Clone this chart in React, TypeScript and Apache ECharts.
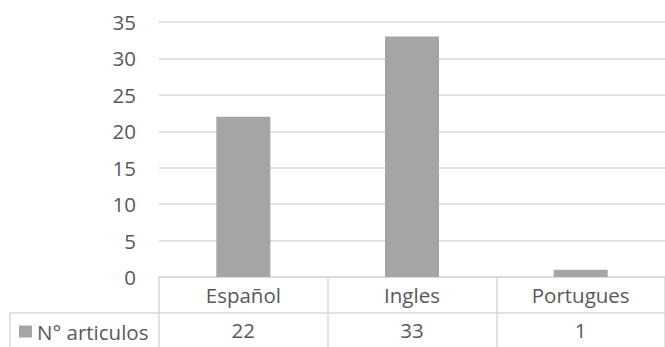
import React, { useEffect, useRef } from "react";
import * as echarts from "echarts";

const categories = ["Español", "Ingles", "Portugues"];
const seriesName = "N° articulos";
const values = [22, 33, 1];
const yTicks = { min: 0, max: 35, interval: 5 };

const FONT = "'Open Sans', 'Liberation Sans', sans-serif";
const TEXT = "#595959";
const LINE = "#d9d9d9";
const BAR = "#a5a5a5";

export default function App() {
  const ref = useRef<HTMLDivElement>(null);
  useEffect(() => {
    if (!ref.current) return;
    const chart = echarts.init(ref.current, undefined, { renderer: "svg" });
    chart.setOption({
      animation: false,
      backgroundColor: "#ffffff",
      textStyle: { fontFamily: FONT },
      grid: { left: 159, right: -13, top: 22, bottom: 70, containLabel: false },
      legend: {
        show: true,
        left: 19,
        top: 321,
        itemWidth: 13,
        itemHeight: 12,
        itemGap: 0,
        padding: 0,
        icon: "rect",
        textStyle: { color: TEXT, fontSize: 20.5, lineHeight: 20, fontFamily: FONT, padding: [0, 0, 0, 0] },
        data: [seriesName],
      },
      xAxis: [
        {
          type: "category",
          data: categories,
          position: "bottom",
          axisLine: { show: true, lineStyle: { color: LINE, width: 1.5 } },
          axisTick: { show: true, alignWithLabel: false, interval: 0, length: 72, lineStyle: { color: LINE, width: 1.5 } },
          axisLabel: { color: TEXT, fontSize: 20.5, fontFamily: FONT, margin: 18, verticalAlign: "middle", interval: 0 },
          splitLine: { show: false },
        },
        {
          type: "category",
          data: categories,
          position: "bottom",
          offset: 36,
          axisLine: { show: true, lineStyle: { color: LINE, width: 1.5 } },
          axisTick: { show: false },
          axisLabel: {
            color: TEXT,
            fontSize: 20.5,
            lineHeight: 20,
            fontFamily: FONT,
            margin: 17,
            verticalAlign: "middle",
            interval: 0,
            formatter: (_v: string, i: number) => String(values[i]),
          },
          splitLine: { show: false },
        },
      ],
      yAxis: {
        type: "value",
        min: yTicks.min,
        max: yTicks.max,
        interval: yTicks.interval,
        axisLine: { show: false },
        axisTick: { show: false },
        axisLabel: { color: TEXT, fontSize: 20.5, fontFamily: FONT, margin: 23 },
        splitLine: { show: true, lineStyle: { color: LINE, width: 1.5 } },
      },
      series: [
        {
          name: seriesName,
          type: "bar",
          xAxisIndex: 0,
          data: values,
          barWidth: 54,
          itemStyle: { color: BAR },
        },
      ],
      graphic: [
        { type: "line", shape: { x1: 10, y1: 313, x2: 159, y2: 313 }, style: { stroke: LINE, lineWidth: 1.5 } },
        { type: "line", shape: { x1: 10, y1: 313, x2: 10, y2: 347 }, style: { stroke: LINE, lineWidth: 1.5 } },
      ],
    });
    return () => chart.dispose();
  }, []);
  return (
    <div
      ref={ref}
      style={{ position: "fixed", left: 0, top: 0, width: 665, height: 347, background: "#fff" }}
    />
  );
}
